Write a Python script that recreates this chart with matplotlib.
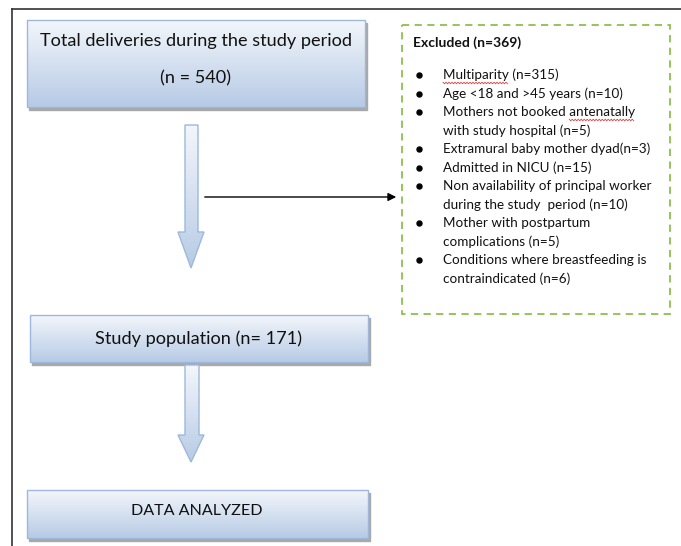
import matplotlib as mpl
mpl.use("Agg")
import matplotlib.pyplot as plt
import numpy as np
from matplotlib.patches import Rectangle, Polygon
from matplotlib.colors import LinearSegmentedColormap

plt.rcParams['font.family'] = ['Lato', 'DejaVu Sans']

# flowchart content
total_label = "Total deliveries during the study period"
total_n = 540
study_label = "Study population"
study_n = 171
final_label = "DATA ANALYZED"
excluded_n = 369
reasons = [
    ["Multiparity (n=315)"],
    ["Age <18 and >45 years (n=10)"],
    ["Mothers not booked antenatally", "with study hospital (n=5)"],
    ["Extramural baby mother dyad(n=3)"],
    ["Admitted in NICU (n=15)"],
    ["Non availability of principal worker", "during the study  period (n=10)"],
    ["Mother with postpartum", "complications (n=5)"],
    ["Conditions where breastfeeding is", "contraindicated (n=6)"],
]
misspelled = ["Multiparity", "antenatally"]

W, H = 681, 546
fig = plt.figure(figsize=(W / 100, H / 100), dpi=100)
ax = fig.add_axes([0, 0, 1, 1])
ax.set_xlim(0, W)
ax.set_ylim(H, 0)
ax.axis('off')

grad = LinearSegmentedColormap.from_list('g', ['#f3f6fb', '#b7cbe5'])
edge = '#9db8dc'
txt = '#111111'

def gradient_patch(patch, x0, x1, y0, y1):
    ax.add_patch(patch)
    img = np.linspace(0, 1, 100).reshape(-1, 1)
    im = ax.imshow(img, cmap=grad, extent=[x0, x1, y1, y0], aspect='auto',
                   interpolation='bicubic', zorder=2)
    im.set_clip_path(patch)

def box(x0, y0, x1, y1):
    ax.add_patch(Rectangle((x0 + 2, y0 + 3), x1 - x0, y1 - y0, color='#a9a9a9', zorder=1))
    r = Rectangle((x0, y0), x1 - x0, y1 - y0, facecolor='none', edgecolor='none', zorder=2)
    gradient_patch(r, x0, x1, y0, y1)
    ax.add_patch(Rectangle((x0, y0), x1 - x0, y1 - y0, facecolor='none',
                           edgecolor=edge, lw=1.0, zorder=3))

def down_arrow(xs0, xs1, xh0, xh1, ytop, yshaft, ytip):
    pts = [(xs0, ytop), (xs1, ytop), (xs1, yshaft), (xh1, yshaft),
           ((xh0 + xh1) / 2, ytip), (xh0, yshaft), (xs0, yshaft)]
    p = Polygon(pts, closed=True, facecolor='none', edgecolor='none', zorder=2)
    gradient_patch(p, xh0, xh1, ytop, ytip)
    ax.add_patch(Polygon(pts, closed=True, facecolor='none', edgecolor=edge, lw=1.0, zorder=3))

# outer frame lines
ax.plot([12, 12], [9, H], color='#333333', lw=1.2)
ax.plot([12, W], [9, 9], color='#333333', lw=1.2)

# boxes
box(27, 20, 365, 107)
ax.text(196, 41, total_label, ha='center', va='center', fontsize=13.1, color=txt, zorder=4)
ax.text(196, 78, "(n = " + str(total_n) + ")", ha='center', va='center', fontsize=13.1, color=txt, zorder=4)

box(30, 315, 368, 362)
ax.text(199, 339, study_label + " (n= " + str(study_n) + ")", ha='center', va='center',
        fontsize=13.1, color=txt, zorder=4)

box(27, 490, 368, 538)
ax.text(197, 511, final_label, ha='center', va='center', fontsize=11.6, color=txt, zorder=4)

# arrows
down_arrow(185, 198, 178, 204, 125, 232, 268)
down_arrow(185, 199, 178, 204, 365, 435, 462)
ax.annotate('', xy=(399, 197), xytext=(202, 197),
            arrowprops=dict(arrowstyle='-|>', color='black', lw=1.0, mutation_scale=12))

# excluded box
ax.add_patch(Rectangle((402, 25), 268, 289, facecolor='white', edgecolor='#8fbf4f',
                       lw=1.3, linestyle=(0, (4, 3)), zorder=3))
ax.text(413, 43, "Excluded (n=" + str(excluded_n) + ")", fontsize=10, fontweight='bold',
        va='center', ha='left', color=txt, zorder=4)

fig.canvas.draw()
renderer = fig.canvas.get_renderer()
inv = ax.transData.inverted()
y = 75
step = 18.5
for item in reasons:
    ax.plot(419, y, 'o', color='black', ms=3.6, zorder=4)
    for line in item:
        ax.text(443, y, line, fontsize=9.7, va='center', ha='left', color=txt, zorder=4)
        for word in misspelled:
            if word in line:
                i = line.index(word)
                xa = 443
                if i > 0:
                    pre = ax.text(443, y, line[:i], fontsize=9.7, va='center', ha='left', alpha=0)
                    xa = inv.transform(pre.get_window_extent(renderer).p1)[0]
                wt = ax.text(443, y, line[:i + len(word)], fontsize=9.7, va='center', ha='left', alpha=0)
                xb = inv.transform(wt.get_window_extent(renderer).p1)[0]
                zx = np.arange(xa, xb, 1.5)
                zy = y + 8 + 0.8 * ((np.arange(len(zx)) % 2) * 2 - 1)
                ax.plot(zx, zy, color='#e04040', lw=0.6, zorder=4)
        y += step

fig.savefig('out.png', dpi=100)
